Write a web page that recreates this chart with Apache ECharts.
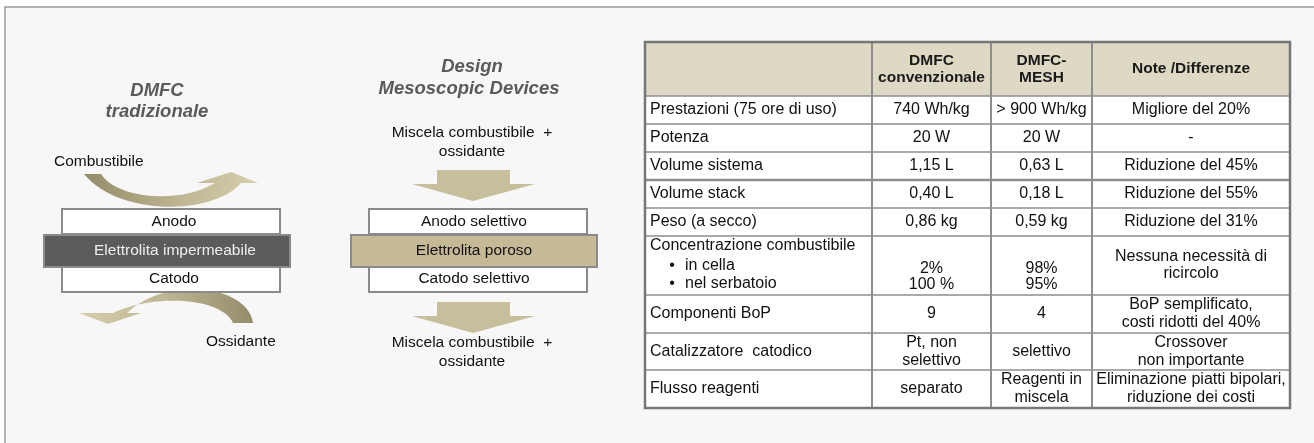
<!DOCTYPE html>
<html><head><meta charset="utf-8">
<script src="https://cdn.jsdelivr.net/npm/echarts@6/dist/echarts.min.js"></script>
<style>html,body{margin:0;padding:0;background:#fff}#c{width:1314px;height:443px}</style>
</head><body><div id="c"></div>
<script>
// ---------- content ----------
const leftTitle = ['DMFC', 'tradizionale'];
const midTitle = ['Design', 'Mesoscopic Devices'];
const leftLayers = ['Anodo', 'Elettrolita impermeabile', 'Catodo'];
const midLayers = ['Anodo selettivo', 'Elettrolita poroso', 'Catodo selettivo'];
const leftFlows = ['Combustibile', 'Ossidante'];
const midFlows = ['Miscela combustibile  +\nossidante', 'Miscela combustibile  +\nossidante'];
const tableHeaders = ['', 'DMFC\nconvenzionale', 'DMFC-\nMESH', 'Note /Differenze'];
const rowLabels = ['Prestazioni (75 ore di uso)', 'Potenza', 'Volume sistema', 'Volume stack', 'Peso (a secco)',
  'Concentrazione combustibile', 'Componenti BoP', 'Catalizzatore  catodico', 'Flusso reagenti'];
const concBullets = ['in cella', 'nel serbatoio'];
const dmfcValues = ['740 Wh/kg', '20 W', '1,15 L', '0,40 L', '0,86 kg', '2%\n100 %', '9', 'Pt, non\nselettivo', 'separato'];
const meshValues = ['> 900 Wh/kg', '20 W', '0,63 L', '0,18 L', '0,59 kg', '98%\n95%', '4', 'selettivo', 'Reagenti in\nmiscela'];
const notes = ['Migliore del 20%', '-', 'Riduzione del 45%', 'Riduzione del 55%', 'Riduzione del 31%',
  'Nessuna necessità di\nricircolo', 'BoP semplificato,\ncosti ridotti del 40%', 'Crossover\nnon importante',
  'Eliminazione piatti bipolari,\nriduzione dei costi'];

// ---------- layout ----------
const FONT = '"Liberation Sans", Arial, sans-serif';
const colX = [645, 872, 991, 1092, 1290];
const rowY = [42, 96, 124, 152, 180, 208, 236, 295, 333, 370, 408];
const els = [];

function txt(text, x, y, o) {
  o = o || {};
  const align = o.align || 'center';
  els.push({
    type: 'text', z: o.z || 20,
    style: {
      text: text, x: x, y: y,
      align: align, textAlign: align,
      verticalAlign: 'middle', textVerticalAlign: 'middle',
      font: o.font || ('16px ' + FONT), fill: o.fill || '#111',
      lineHeight: o.lh || 18
    }
  });
}
function rect(x, y, w, h, fill, stroke, lw, z) {
  els.push({ type: 'rect', z: z || 5, shape: { x: x, y: y, width: w, height: h },
    style: { fill: fill, stroke: stroke, lineWidth: lw || 0 } });
}
function line(x1, y1, x2, y2, color, lw, z) {
  els.push({ type: 'line', z: z || 15, shape: { x1: x1, y1: y1, x2: x2, y2: y2 },
    style: { stroke: color, lineWidth: lw } });
}
// sample a cubic bezier into points (excluding start)
function cubic(p0, p1, p2, p3, n) {
  const pts = [];
  for (let i = 1; i <= n; i++) {
    const t = i / n, u = 1 - t;
    pts.push([u*u*u*p0[0] + 3*u*u*t*p1[0] + 3*u*t*t*p2[0] + t*t*t*p3[0],
              u*u*u*p0[1] + 3*u*u*t*p1[1] + 3*u*t*t*p2[1] + t*t*t*p3[1]]);
  }
  return pts;
}

// frame
rect(5, 7, 1330, 460, '#f7f7f7', '#9a9a9a', 1.5, 1);

// ---------- left diagram ----------
const titleFont = 'italic bold 18.5px ' + FONT;
txt(leftTitle[0], 157, 91, { font: titleFont, fill: '#5a5a5a' });
txt(leftTitle[1], 157, 112, { font: titleFont, fill: '#5a5a5a' });
txt(leftFlows[0], 54, 162, { align: 'left', font: '15.5px ' + FONT });
txt(leftFlows[1], 206, 342, { align: 'left', font: '15.5px ' + FONT });

const gTop = new echarts.graphic.LinearGradient(0, 0, 1, 0, [
  { offset: 0, color: '#948b68' }, { offset: 0.55, color: '#bfb592' }, { offset: 1, color: '#d6cdac' }]);
let topPts = [[84, 174], [101, 174]]
  .concat(cubic([101, 174], [116, 198], [178, 205], [215, 183], 30))
  .concat([[197, 183], [231, 172], [258, 183], [241, 183]])
  .concat(cubic([241, 183], [212, 216], [118, 216], [84, 174], 30));
els.push({ type: 'polygon', z: 4, shape: { points: topPts }, style: { fill: gTop } });

const gBot = new echarts.graphic.LinearGradient(1, 0, 0, 0, [
  { offset: 0, color: '#948b68' }, { offset: 0.5, color: '#bfb592' }, { offset: 1, color: '#d6cdac' }]);
let botPts = [[253, 323]]
  .concat(cubic([253, 323], [248, 286], [168, 274], [127, 313], 30))
  .concat([[141, 313], [108, 324], [79, 313], [113, 313]])
  .concat(cubic([113, 313], [156, 293], [222, 298], [233, 323], 30));
els.push({ type: 'polygon', z: 4, shape: { points: botPts }, style: { fill: gBot } });

rect(62, 209, 218, 25, '#ffffff', '#8a8a8a', 2, 6);
rect(62, 267, 218, 25, '#ffffff', '#8a8a8a', 2, 6);
rect(44, 235, 246, 32, '#5b5b5b', '#8a8a8a', 2, 7);
txt(leftLayers[0], 174, 222, { font: '15.5px ' + FONT });
txt(leftLayers[1], 175, 251, { font: '15.5px ' + FONT, fill: '#eeeeee' });
txt(leftLayers[2], 174, 279, { font: '15.5px ' + FONT });

// ---------- middle diagram ----------
txt(midTitle[0], 472, 67, { font: titleFont, fill: '#5a5a5a' });
txt(midTitle[1], 469, 89, { font: titleFont, fill: '#5a5a5a' });
txt(midFlows[0], 472, 142, { font: '15.5px ' + FONT, lh: 19 });
txt(midFlows[1], 472, 352, { font: '15.5px ' + FONT, lh: 19 });
els.push({ type: 'polygon', z: 4, shape: { points: [[437,170],[510,170],[510,184],[535,184],[473,201],[412,184],[437,184]] },
  style: { fill: '#c7be9b' } });
els.push({ type: 'polygon', z: 4, shape: { points: [[437,302],[510,302],[510,316],[535,316],[473,333],[412,316],[437,316]] },
  style: { fill: '#c7be9b' } });
rect(369, 209, 218, 25, '#ffffff', '#8a8a8a', 2, 6);
rect(369, 267, 218, 25, '#ffffff', '#8a8a8a', 2, 6);
rect(351, 235, 246, 32, '#c6ba96', '#8a8a8a', 2, 7);
txt(midLayers[0], 474, 222, { font: '15.5px ' + FONT });
txt(midLayers[1], 474, 251, { font: '15.5px ' + FONT });
txt(midLayers[2], 474, 279, { font: '15.5px ' + FONT });

// ---------- table ----------
const tw = colX[4] - colX[0];
rect(colX[0], rowY[0], tw, rowY[1] - rowY[0], '#ddd9c4', null, 0, 8);
rect(colX[0], rowY[1], tw, rowY[rowY.length - 1] - rowY[1], '#ffffff', null, 0, 8);
for (let c = 1; c < 4; c++) {
  const cx = (colX[c] + colX[c + 1]) / 2;
  txt(tableHeaders[c], cx, (rowY[0] + rowY[1]) / 2, { font: 'bold 15.5px ' + FONT, fill: '#1a1a1a', lh: 17 });
}
const colsData = [dmfcValues, meshValues, notes];
rowLabels.forEach(function (lab, i) {
  const y0 = rowY[i + 1], y1 = rowY[i + 2], cy = (y0 + y1) / 2;
  if (i === 5) {
    txt(lab, colX[0] + 5, 246, { align: 'left' });
    concBullets.forEach(function (b, k) {
      const by = 266 + k * 18;
      txt('\u2022', colX[0] + 27, by, { align: 'center' });
      txt(b, colX[0] + 40, by, { align: 'left' });
    });
    txt(dmfcValues[i], (colX[1] + colX[2]) / 2, 277, { lh: 16 });
    txt(meshValues[i], (colX[2] + colX[3]) / 2, 277, { lh: 16 });
    txt(notes[i], (colX[3] + colX[4]) / 2, cy, { lh: 17 });
  } else {
    txt(lab, colX[0] + 5, cy, { align: 'left' });
    colsData.forEach(function (arr, c) {
      txt(arr[i], (colX[c + 1] + colX[c + 2]) / 2, cy, { lh: 18 });
    });
  }
});
// grid lines
for (let r = 1; r < rowY.length - 1; r++) {
  line(colX[0], rowY[r], colX[4], rowY[r], '#8e8e8e', r === 4 ? 2.5 : 1.5);
}
for (let c = 1; c < 4; c++) line(colX[c], rowY[0], colX[c], rowY[rowY.length - 1], '#8e8e8e', 2);
els.push({ type: 'rect', z: 16, shape: { x: colX[0], y: rowY[0], width: tw, height: rowY[rowY.length - 1] - rowY[0] },
  style: { fill: null, stroke: '#777777', lineWidth: 2.5 } });

const chart = echarts.init(document.getElementById('c'), null, { renderer: 'canvas' });
chart.setOption({ animation: false, graphic: { elements: els } });
</script></body></html>
